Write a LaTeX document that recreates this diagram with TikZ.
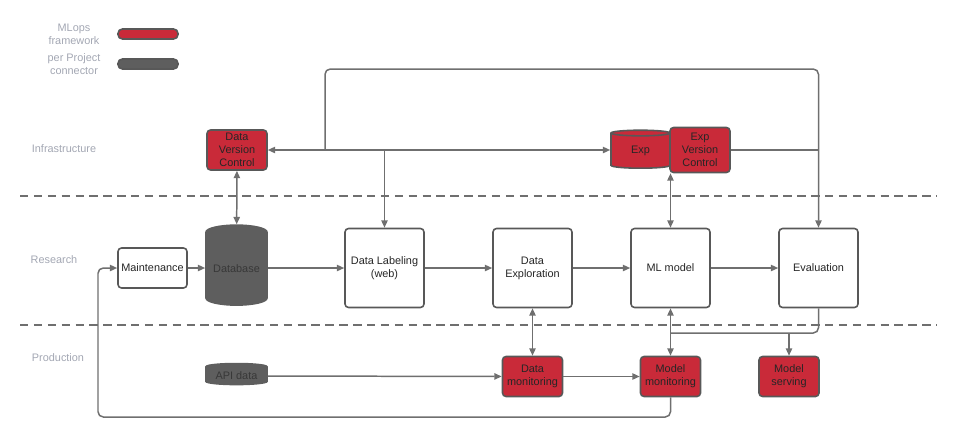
\documentclass[tikz,border=0pt]{standalone}
\usepackage{fontspec}
\setmainfont{Liberation Sans}
\usetikzlibrary{positioning,shapes.geometric,arrows.meta}
\definecolor{mlred}{HTML}{C92A39}
\definecolor{pgray}{HTML}{5E5E5E}
\definecolor{edgegray}{HTML}{6F6F6F}
\definecolor{bordgray}{HTML}{585858}
\definecolor{labgray}{HTML}{A3A7B3}

\begin{document}
\begin{tikzpicture}[x=0.02cm,y=-0.02cm,
  font=\fontsize{6.2}{7.4}\selectfont,
  >={Triangle[length=4.2pt,width=3.6pt]},
  conn/.style={draw=edgegray,line width=0.85pt},
  mlbox/.style={draw=bordgray,fill=mlred,text=black!85,rounded corners=2pt,line width=0.9pt,align=center,minimum width=1.2cm,minimum height=0.8cm,inner sep=1pt},
  wbox/.style={draw=bordgray,fill=white,text=black!85,rounded corners=2pt,line width=0.9pt,align=center,minimum width=1.58cm,minimum height=1.58cm},
  dbcyl/.style={cylinder,shape border rotate=90,draw=bordgray,line width=0.9pt,align=center,inner sep=0pt},
  legbar/.style={draw=bordgray,rounded corners=2.5pt,line width=0.9pt,minimum width=1.2cm,minimum height=0.2cm,inner sep=0pt},
  rowlab/.style={text=labgray,align=center},
  lane/.style={draw=edgegray,line width=1.1pt,dash pattern=on 4.8pt off 3.1pt}]

  \useasboundingbox (0,0) rectangle (957,437);

  % legend
  \node[rowlab] (MLfr) at (74,34) {MLops\\framework};
  \node[legbar,fill=mlred] (MLfrBar) at (148,34) {};
  \node[rowlab] (PePr) at (74,64) {per Project\\connector};
  \node[legbar,fill=pgray] (PePrBar) at (148,64) {};

  % lanes
  \node[rowlab] (Infr) at (64,149) {Infrastructure};
  \node[rowlab] (Rese) at (54,260) {Research};
  \node[rowlab] (Prod) at (58,358) {Production};
  \draw[lane] (20,196) -- (937,196);
  \draw[lane] (20,325) -- (937,325);

  % infrastructure
  \node[mlbox] (DaVC) at (237,150) {Data\\Version\\Control};
  \node[dbcyl,fill=mlred,text=black!85,minimum width=1.18cm,minimum height=0.76cm,aspect=0.3] (ExDb) at (640.5,151) {Exp};
  \node[mlbox,minimum height=0.9cm] (ExVC) at (700,150) {Exp\\Version\\Control};

  % research
  \node[draw=bordgray,fill=white,text=black!85,rounded corners=2pt,line width=0.9pt,inner sep=1pt,minimum width=1.38cm,minimum height=0.8cm] (Main) at (152.5,268) {Maintenance};
  \node[dbcyl,fill=pgray,draw=pgray,text=black!78,minimum width=1.22cm,minimum height=1.6cm,aspect=0.3] (Db) at (236.5,269) {Database};
  \node[wbox] (DaLa) at (384.5,268) {Data Labeling\\(web)};
  \node[wbox] (DaEx) at (532.5,268) {Data\\Exploration};
  \node[wbox] (MLmo) at (670.5,268) {ML model};
  \node[wbox] (Eval) at (818.5,268) {Evaluation};

  % production
  \node[dbcyl,fill=pgray,draw=pgray,text=black!78,minimum width=1.22cm,minimum height=0.42cm,aspect=0.15] (ApDa) at (236.5,376) {API data};
  \node[mlbox] (DaMo) at (532.5,376.5) {Data\\monitoring};
  \node[mlbox] (MoMo) at (670.5,376.5) {Model\\monitoring};
  \node[mlbox] (MoSe) at (789,376.5) {Model\\serving};

  % connectors, infrastructure
  \coordinate (brUp) at (325,150);
  \coordinate (topR) at (818.5,69);
  \draw[conn,<->] (DaVC.east) -- (DaVC.east -| ExDb.west);
  \draw[conn,<->] (Db) -- (DaVC);
  \draw[conn,->] (DaLa.north |- DaVC.east) -- (DaLa);
  \draw[conn,->,rounded corners=3pt] (brUp) |- (topR) -- (Eval);
  \draw[conn] (ExVC.east) -- (ExVC.east -| Eval.north);
  \draw[conn,<->] (MLmo.north) -- (MLmo.north |- ExVC.south);

  % research row
  \draw[conn,->] (Main) -- (Main -| Db.west);
  \draw[conn,->] (Db.east |- DaLa) -- (DaLa);
  \draw[conn,->] (DaLa) -- (DaEx);
  \draw[conn,->] (DaEx) -- (MLmo);
  \draw[conn,->] (MLmo) -- (Eval);

  % production row
  \coordinate (evJn) at (670.5,333);
  \coordinate (loopB) at (98,417);
  \draw[conn,<->] (DaEx) -- (DaMo);
  \draw[conn,<->] (MLmo) -- (MoMo);
  \draw[conn,rounded corners=3pt] (Eval) |- (evJn);
  \draw[conn,->] (MoSe.north |- evJn) -- (MoSe);
  \draw[conn,->] (ApDa) -- (DaMo);
  \draw[conn,->] (DaMo) -- (MoMo);
  \draw[conn,->,rounded corners=3pt] (MoMo) |- (loopB) |- (Main);

\end{tikzpicture}
\end{document}
